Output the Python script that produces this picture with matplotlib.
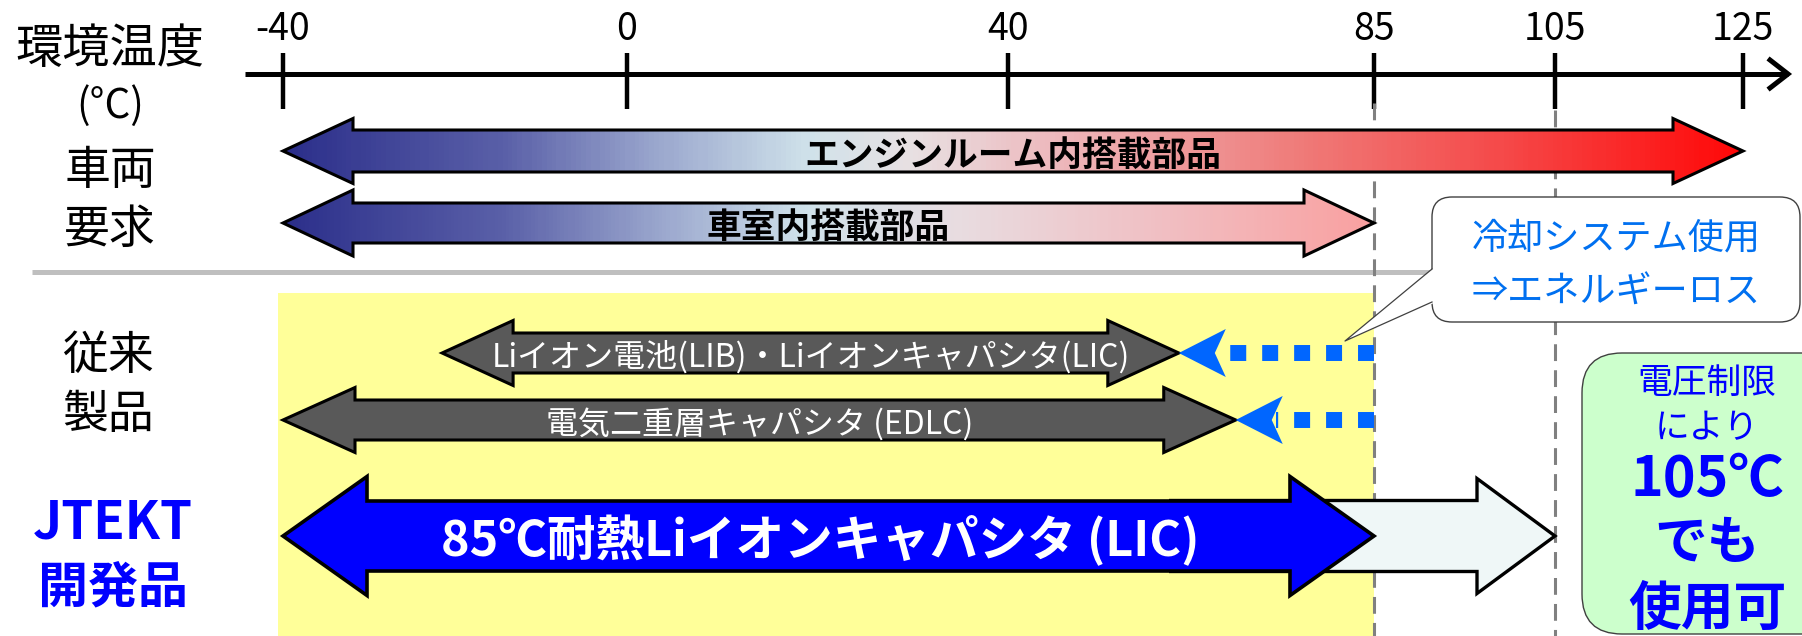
"""
Operating temperature ranges: vehicle requirements vs. storage devices.
Schematic temperature axis (non-uniform spacing between ticks).
"""

import numpy as np
import matplotlib
matplotlib.use("Agg")
import matplotlib.pyplot as plt
from matplotlib.patches import Polygon, FancyBboxPatch, Rectangle
from matplotlib.colors import LinearSegmentedColormap
from matplotlib.transforms import Affine2D

plt.rcParams["font.family"] = ["Noto Sans CJK JP", "DejaVu Sans"]

W, H = 1802, 636

# --- data ---
TICK_TEMPS = [-40, 0, 40, 85, 105, 125]
TICK_LABELS = ["-40", "0", "40", "85", "105", "125"]

REQ_LABELS = ["エンジンルーム内搭載部品", "車室内搭載部品"]
REQ_RANGES = [(-40, 125), (-40, 85)]

CONV_LABELS = ["Liイオン電池(LIB)・Liイオンキャパシタ(LIC)", "電気二重層キャパシタ (EDLC)"]
CONV_RANGES = [(-21.5, 61), (-40, 68)]
COOLING_LIMIT = 85

NEW_LABEL = "85℃耐熱Liイオンキャパシタ (LIC)"
NEW_RANGE = (-40, 85)
NEW_EXTENDED = (60, 105)

ROW_LABELS = ["環境温度", "(°C)", "車両", "要求", "従来", "製品", "JTEKT", "開発品"]
CALLOUT_LINES = ["冷却システム使用", "⇒エネルギーロス"]
GREEN_LINES = ["電圧制限", "により", "105℃", "でも", "使用可"]

# schematic axis: pixel position of each tick (spacing is not linear)
TICK_PX = [283, 627, 1008, 1374, 1555, 1743]
_T = np.array([-200.0] + TICK_TEMPS + [300.0])
_P = np.array([283 - 160 * 8.6] + TICK_PX + [1743 + 175 * 9.4])


def fwd(t):
    return np.interp(np.asarray(t, dtype=float), _T, _P)


def inv(p):
    return np.interp(np.asarray(p, dtype=float), _P, _T)


def arrow_path(t0, t1, yc, shaft, head, hlen, left=True):
    p0, p1 = float(fwd(t0)), float(fwd(t1))
    a = p0 + hlen
    b = p1 - hlen
    if left:
        pts = [(p0, yc), (a, yc - head / 2), (a, yc - shaft / 2)]
    else:
        pts = [(p0, yc - shaft / 2)]
    pts += [(b, yc - shaft / 2), (b, yc - head / 2), (p1, yc),
            (b, yc + head / 2), (b, yc + shaft / 2)]
    if left:
        pts += [(a, yc + shaft / 2), (a, yc + head / 2)]
    else:
        pts += [(p0, yc + shaft / 2)]
    pts = np.array(pts)
    return np.column_stack([inv(pts[:, 0]), pts[:, 1]])


fig = plt.figure(figsize=(W / 100, H / 100), dpi=100)
ax = fig.add_axes([0, 0, 1, 1])
ax.set_xscale("function", functions=(fwd, inv))
ax.set_xlim(float(inv(0)), float(inv(W)))
ax.set_ylim(H, 0)
ax.axis("off")

# pixel transform for layout-only elements (x right, y down)
T_PX = Affine2D().scale(1 / W, -1 / H).translate(0, 1) + fig.transFigure

# --- temperature axis ---
ax.plot([float(inv(245)), float(inv(1788))], [74, 74], color="black", lw=3.6,
        solid_capstyle="butt")
ax.plot(inv([1770, 1788, 1770]), [60, 74, 88], color="black", lw=3.6,
        solid_joinstyle="miter")
ax.vlines(TICK_TEMPS, 53, 109, color="black", lw=3.2)
for t, lab in zip(TICK_TEMPS, TICK_LABELS):
    ax.text(t, 29, lab, ha="center", va="center", fontsize=27)

# dashed guides at 85 / 105
for t, y0 in [(85, 103), (105, 110)]:
    ax.plot([t, t], [y0, H], color="#808080", lw=2.2, dashes=(5.5, 3), zorder=2)

# --- left row labels ---
left_pos = [(110, 50, 34, "normal", "black"), (110, 106, 29, "normal", "black"),
            (110, 171, 33, "normal", "black"), (110, 230, 33, "normal", "black"),
            (108, 356, 33, "normal", "black"), (108, 415, 33, "normal", "black"),
            (113, 523, 37, "bold", "#0000FF"), (113, 588, 36, "bold", "#0000FF")]
for lab, (x, y, fs, fw, c) in zip(ROW_LABELS, left_pos):
    ax.text(x, y, lab, transform=T_PX, ha="center", va="center", fontsize=fs,
            fontweight=fw, color=c)

# separator and yellow band (range up to 85 °C)
ax.plot([32, 1440], [272, 272], color="#BFBFBF", lw=3.6, transform=T_PX,
        solid_capstyle="butt", zorder=1)
left_edge = float(inv(278))
ax.add_patch(Rectangle((left_edge, 293), NEW_RANGE[1] - left_edge, H - 293,
                       facecolor="#FFFF99", edgecolor="none", zorder=0))

# --- vehicle requirement arrows (gradient) ---
grad_engine = LinearSegmentedColormap.from_list("engine", [
    (0.0, "#2B2E8A"), (0.15, "#5A60A8"), (0.25, "#98A4CC"), (0.36, "#D0E2EA"),
    (0.43, "#E8E0E2"), (0.53, "#EDB8BC"), (0.70, "#EF7A78"), (0.84, "#F54848"),
    (1.0, "#FF0808")])
grad_cabin = LinearSegmentedColormap.from_list("cabin", [
    (0.0, "#2B2E8A"), (0.2, "#5A60A8"), (0.34, "#98A4CC"), (0.48, "#D0E2EA"),
    (0.62, "#E8DCE0"), (0.8, "#F0C0C4"), (1.0, "#F9A0A0")])

req_geom = [(151, 42, 65, 70), (223, 40, 66, 70)]
for lab, (t0, t1), (yc, sh, hd, hl), cmap in zip(REQ_LABELS, REQ_RANGES, req_geom,
                                                 [grad_engine, grad_cabin]):
    xy = arrow_path(t0, t1, yc, sh, hd, hl)
    clip = Polygon(xy, closed=True, facecolor="none", edgecolor="none")
    ax.add_patch(clip)
    px = np.linspace(fwd(t0), fwd(t1), 300)
    mesh = ax.pcolormesh(inv(px), [yc - hd / 2, yc + hd / 2],
                         np.linspace(0, 1, 299)[None, :], cmap=cmap,
                         shading="flat", zorder=3)
    mesh.set_clip_path(clip)
    ax.add_patch(Polygon(xy, closed=True, facecolor="none", edgecolor="black",
                         lw=2.2, joinstyle="miter", zorder=4))
    xc = float(inv((fwd(t0) + fwd(t1)) / 2))
    ax.text(xc, yc + 4, lab, ha="center", va="center", fontsize=25,
            fontweight="bold", color="black", zorder=5)

# --- conventional products ---
conv_geom = [(353, 40, 65, 71), (420, 40, 65, 72)]
for lab, (t0, t1), (yc, sh, hd, hl) in zip(CONV_LABELS, CONV_RANGES, conv_geom):
    xy = arrow_path(t0, t1, yc, sh, hd, hl)
    ax.add_patch(Polygon(xy, closed=True, facecolor="#595959", edgecolor="black",
                         lw=2.2, joinstyle="miter", zorder=4))
    xc = float(inv((fwd(t0) + fwd(t1)) / 2))
    ax.text(xc, yc + 4, lab, ha="center", va="center", fontsize=23,
            color="white", zorder=5)
    # blue dotted arrow: cooling needed to reach 85 °C
    tip = float(fwd(t1))
    ax.plot([COOLING_LIMIT, float(inv(tip + 40))], [yc, yc], color="#0066FF",
            lw=11.5, linestyle=(0, (1, 1)), dash_capstyle="butt", zorder=5)
    head = np.array([(tip, yc), (tip + 47, yc - 24), (tip + 36, yc),
                     (tip + 47, yc + 24)])
    ax.add_patch(Polygon(np.column_stack([inv(head[:, 0]), head[:, 1]]),
                         closed=True, facecolor="#0066FF", edgecolor="none",
                         zorder=6))

# --- JTEKT product ---
ghost = arrow_path(NEW_EXTENDED[0], NEW_EXTENDED[1], 536, 71, 115, 78, left=False)
ax.add_patch(Polygon(ghost, closed=True, facecolor="#EFF7F7", edgecolor="black",
                     lw=2.4, joinstyle="miter", zorder=4))
main = arrow_path(NEW_RANGE[0], NEW_RANGE[1], 536, 70, 119, 84)
ax.add_patch(Polygon(main, closed=True, facecolor="#0000FF", edgecolor="black",
                     lw=2.6, joinstyle="miter", zorder=5))
xc = float(inv((fwd(NEW_RANGE[0]) + fwd(NEW_RANGE[1])) / 2 - 8))
ax.text(xc, 540, NEW_LABEL, ha="center", va="center", fontsize=35,
        fontweight="bold", color="white", zorder=6)

# --- callout: cooling system ---
ax.add_patch(FancyBboxPatch((1432, 197), 368, 125, boxstyle="round,pad=0,rounding_size=20",
                            facecolor="white", edgecolor="#404040", lw=1.0,
                            transform=T_PX, zorder=7))
ax.add_patch(Polygon([(1434, 268), (1345, 341), (1434, 303)], closed=True,
                     facecolor="white", edgecolor="none", transform=T_PX, zorder=8))
ax.plot([1432, 1345, 1432], [269, 341, 302], color="#404040", lw=0.9,
        transform=T_PX, zorder=8)
for line, y in zip(CALLOUT_LINES, [239, 293]):
    ax.text(1616, y, line, transform=T_PX, ha="center", va="center",
            fontsize=26, color="#0070F0", zorder=9)

# --- green note box ---
ax.add_patch(FancyBboxPatch((1582, 353), 260, 281, boxstyle="round,pad=0,rounding_size=40",
                            facecolor="#CCFFCC", edgecolor="#404040", lw=1.0,
                            transform=T_PX, zorder=7))
green_pos = [(383, 25, "normal"), (429, 25, "normal"), (480, 40, "bold"),
             (543, 38, "bold"), (609, 38, "bold")]
for line, (y, fs, fw) in zip(GREEN_LINES, green_pos):
    ax.text(1707, y, line, transform=T_PX, ha="center", va="center",
            fontsize=fs, fontweight=fw, color="#0000FF", zorder=9)

fig.savefig("out.png", dpi=100)
